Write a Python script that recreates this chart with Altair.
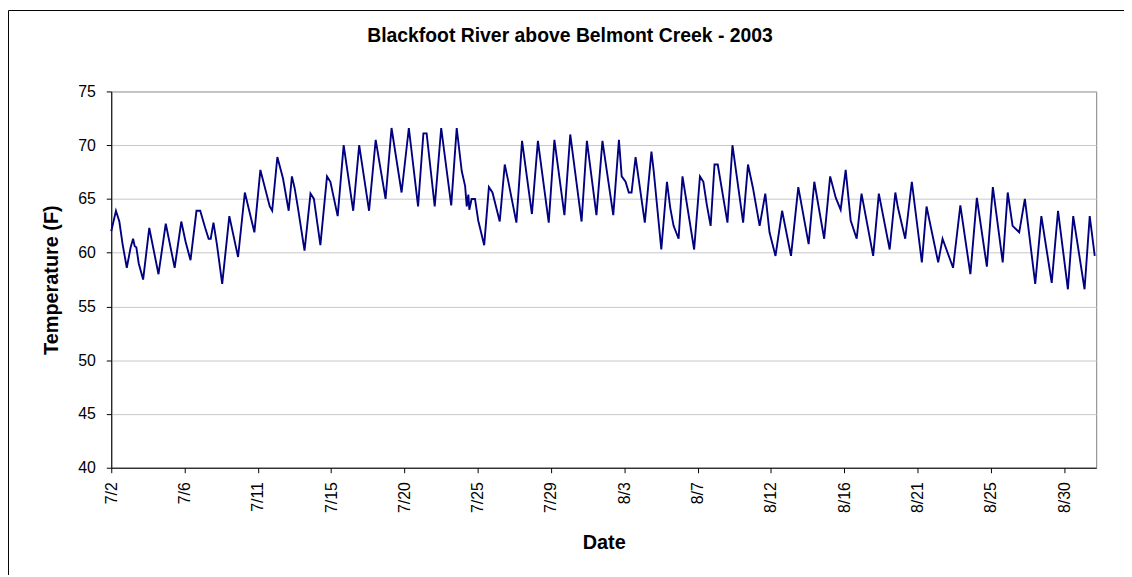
import json
import altair as alt
import pandas as pd

# Time in days since 2 July 2003 00:00, and water temperature (F)
day = [0.3, 0.59, 0.8, 1.0, 1.26, 1.5, 1.65, 1.75, 1.85, 2.0, 2.27, 2.65, 3.22, 3.67, 4.22, 4.63, 4.9, 5.2,
       5.57, 5.8, 6.11, 6.32, 6.45, 6.62, 6.83, 7.16, 7.6, 8.14, 8.56, 9.15, 9.52, 10.1,
       10.25, 10.57, 10.92, 11.27, 11.47, 11.64, 11.84, 12.25, 12.62, 12.83, 13.23, 13.64, 13.85,
       14.3, 14.67, 15.26, 15.63, 16.24, 16.65, 17.26, 17.63, 18.25, 18.7, 19.27, 19.6, 19.8, 20.3,
       20.7, 21.32, 21.66, 21.97, 22.18, 22.28, 22.38, 22.44, 22.58, 22.79, 22.99, 23.36, 23.65, 23.87,
       24.32, 24.63, 24.84, 25.35, 25.7, 26.31, 26.68, 27.35, 27.7, 28.32, 28.68, 29.38, 29.71, 30.3,
       30.67, 31.34, 31.69, 31.86, 32.1, 32.3, 32.47, 32.72, 33.29, 33.7, 33.84, 34.31, 34.66, 34.86,
       35.07, 35.38, 35.62, 36.34, 36.7, 36.91, 37.12, 37.36, 37.6, 37.8, 38.4, 38.71, 39.37, 39.67,
       39.98, 40.39, 40.74, 41.0, 41.37, 41.78, 42.33, 42.78, 43.42, 43.77, 44.38, 44.75, 45.1, 45.4,
       45.71, 46.02, 46.39, 46.69, 47.41, 47.76, 48.43, 48.78, 48.94, 49.39, 49.8, 50.42,
       50.71, 51.43, 51.7, 52.35, 52.8, 53.42, 53.82, 54.44, 54.81, 55.42, 55.73, 56.03, 56.44, 56.79,
       57.43, 57.81, 58.45, 58.84, 59.45, 59.78, 60.48, 60.8, 61.11]
temp = [62.0, 63.9, 62.9, 60.8, 58.6, 60.5, 61.3, 60.6, 60.5, 59.0, 57.5, 62.3, 58.0, 62.7, 58.6, 62.9, 61.0, 59.3,
        63.9, 63.9, 62.3, 61.3, 61.3, 62.8, 60.8, 57.1, 63.4, 59.6, 65.6, 61.9, 67.7, 64.3,
        63.9, 68.9, 66.9, 63.9, 67.1, 66.0, 64.2, 60.2, 65.5, 65.0, 60.7, 67.1, 66.6,
        63.4, 70.0, 63.9, 70.0, 63.9, 70.5, 65.0, 71.6, 65.6, 71.6, 64.3, 71.1, 71.1, 64.3,
        71.6, 64.4, 71.6, 67.6, 66.2, 64.3, 65.4, 64.0, 65.0, 65.0, 63.0, 60.7, 66.1, 65.6,
        62.9, 68.2, 66.7, 62.8, 70.4, 63.6, 70.4, 62.8, 70.5, 63.5, 71.0, 62.9, 70.4, 63.5,
        70.4, 63.5, 70.5, 67.1, 66.6, 65.6, 65.6, 68.9, 62.8, 69.4, 67.6, 60.3, 66.6, 64.2,
        62.5, 61.3, 67.1, 60.3, 67.1, 66.6, 64.5, 62.5, 68.2, 68.2, 62.8, 70.0, 62.8, 68.2,
        66.0, 62.5, 65.5, 61.9, 59.7, 63.9, 59.7, 66.1, 60.8, 66.6, 61.3, 67.1, 65.1, 64.0,
        67.7, 63.0, 61.3, 65.5, 59.7, 65.5, 60.3, 65.6, 64.2, 61.3, 66.6, 59.1,
        64.3, 59.1, 61.3, 58.6, 64.4, 58.0, 65.1, 58.7, 66.1, 59.1, 65.6, 62.5, 61.9, 65.0,
        57.1, 63.4, 57.2, 63.9, 56.6, 63.4, 56.6, 63.4, 59.7]

# Category-style tick positions (every 4.532 days) and their labels
tick_days = [0.3, 4.832, 9.364, 13.896, 18.428, 22.96, 27.492, 32.024, 36.556, 41.088,
             45.62, 50.152, 54.684, 59.216]
tick_labels = ["7/2", "7/6", "7/11", "7/15", "7/20", "7/25", "7/29", "8/3", "8/7", "8/12",
               "8/16", "8/21", "8/25", "8/30"]
y_ticks = [40, 45, 50, 55, 60, 65, 70, 75]

df = pd.DataFrame({"day": day, "temp": temp})
one = pd.DataFrame({"k": [0]})

FONT = "Liberation Sans"
label_expr = json.dumps(tick_labels) + "[round((datum.value - 0.3) / 4.532)]"

line = alt.Chart(df).mark_line(color="#000080", strokeWidth=1.9, interpolate="linear").encode(
    x=alt.X("day:Q",
            scale=alt.Scale(domain=[0.3, 61.2], nice=False, zero=False),
            axis=alt.Axis(values=tick_days, labelExpr=label_expr, title="Date",
                          labelAngle=270, labelAlign="right", labelBaseline="middle",
                          labelPadding=9, tickSize=5, grid=False,
                          titleX=496, titleY=81, titleBaseline="alphabetic",
                          titleAnchor="middle")),
    y=alt.Y("temp:Q",
            scale=alt.Scale(domain=[40, 75], nice=False, zero=False),
            axis=alt.Axis(values=y_ticks, title="Temperature (F)", tickSize=5,
                          labelPadding=11, grid=True,
                          titleX=-54, titleY=189.5, titleAngle=270,
                          titleBaseline="alphabetic", titleAlign="center")),
)

frame_left = alt.Chart(one).mark_rule(color="black", strokeWidth=1).encode(
    x=alt.value(-103.5), y=alt.value(-81.5), y2=alt.value(487))
frame_top = alt.Chart(one).mark_rule(color="black", strokeWidth=1).encode(
    x=alt.value(-103.5), x2=alt.value(1020), y=alt.value(-81.5))

chart = alt.layer(line, frame_left, frame_top).properties(
    width=992, height=379,
    title=alt.TitleParams("Blackfoot River above Belmont Creek - 2003", font=FONT,
                          fontSize=19.5, fontWeight="bold", color="black",
                          anchor="middle", frame="group", dx=-34, dy=52,
                          baseline="alphabetic", offset=0),
    padding={"left": 104, "top": 82, "right": 28, "bottom": 108},
    autosize=alt.AutoSizeParams(type="none"),
).configure_view(stroke="#808080", strokeWidth=1).configure_axis(
    labelFont=FONT, labelFontSize=16, labelColor="black",
    titleFont=FONT, titleFontSize=20, titleFontWeight="bold", titleColor="black",
    domainColor="black", domainWidth=1, tickColor="black", tickWidth=1,
    gridColor="#c8c8c8", gridWidth=1,
)

chart.save("out.html", embed_options={"renderer": "svg", "actions": False})
